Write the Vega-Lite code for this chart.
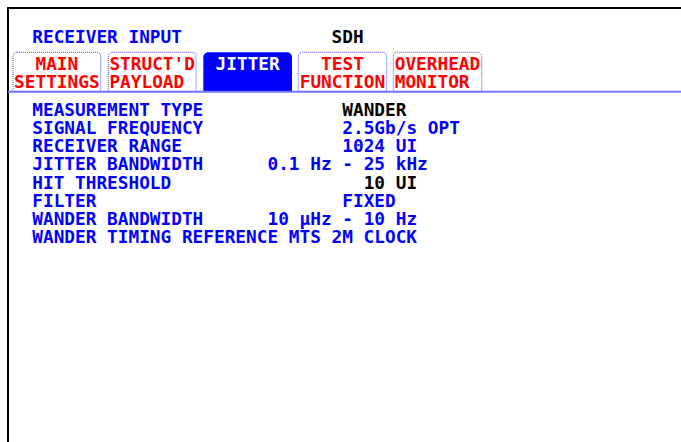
{
  "$schema": "https://vega.github.io/schema/vega-lite/v6.json",
  "width": 674,
  "height": 435,
  "padding": {"left": 8, "top": 8, "right": 0, "bottom": 0},
  "autosize": {"type": "none"},
  "background": "white",
  "config": {"view": {"stroke": "black", "strokeWidth": 2}},
  "datasets": {
    "tabs": [
      {"tab": "MAIN SETTINGS", "left": -1.805, "right": 6.398, "top": -3.181, "bottom": -1.0, "state": "inactive"},
      {"tab": "STRUCT'D PAYLOAD", "left": 7.109, "right": 15.313, "top": -3.181, "bottom": -1.0, "state": "inactive"},
      {"tab": "JITTER", "left": 15.996, "right": 24.294, "top": -3.181, "bottom": -1.0, "state": "active"},
      {"tab": "TEST FUNCTION", "left": 24.883, "right": 33.152, "top": -3.181, "bottom": -1.0, "state": "inactive"},
      {"tab": "OVERHEAD MONITOR", "left": 33.770, "right": 42.039, "top": -3.181, "bottom": -1.0, "state": "inactive"}
    ],
    "tablabels": [
      {"text": "MAIN", "col": 2.297, "row": -2.55, "role": "tab"},
      {"text": "SETTINGS", "col": 2.297, "row": -1.55, "role": "tab"},
      {"text": "STRUCT'D", "col": 11.211, "row": -2.55, "role": "tab"},
      {"text": "PAYLOAD", "col": 10.711, "row": -1.55, "role": "tab"},
      {"text": "JITTER", "col": 20.145, "row": -2.55, "role": "active"},
      {"text": "TEST", "col": 29.018, "row": -2.55, "role": "tab"},
      {"text": "FUNCTION", "col": 29.018, "row": -1.55, "role": "tab"},
      {"text": "OVERHEAD", "col": 37.905, "row": -2.55, "role": "tab"},
      {"text": "MONITOR", "col": 37.405, "row": -1.55, "role": "tab"}
    ],
    "screen": [
      {"text": "RECEIVER INPUT", "col": 0, "row": -4, "role": "selectable"},
      {"text": "SDH", "col": 28, "row": -4, "role": "fixed"},
      {"text": "MEASUREMENT TYPE", "col": 0, "row": 0, "role": "selectable"},
      {"text": "WANDER", "col": 29, "row": 0, "role": "fixed"},
      {"text": "SIGNAL FREQUENCY", "col": 0, "row": 1, "role": "selectable"},
      {"text": "2.5Gb/s OPT", "col": 29, "row": 1, "role": "selectable"},
      {"text": "RECEIVER RANGE", "col": 0, "row": 2, "role": "selectable"},
      {"text": "1024 UI", "col": 29, "row": 2, "role": "selectable"},
      {"text": "JITTER BANDWIDTH", "col": 0, "row": 3, "role": "selectable"},
      {"text": "0.1 Hz - 25 kHz", "col": 22, "row": 3, "role": "selectable"},
      {"text": "HIT THRESHOLD", "col": 0, "row": 4, "role": "selectable"},
      {"text": "10 UI", "col": 31, "row": 4, "role": "fixed"},
      {"text": "FILTER", "col": 0, "row": 5, "role": "selectable"},
      {"text": "FIXED", "col": 29, "row": 5, "role": "selectable"},
      {"text": "WANDER BANDWIDTH", "col": 0, "row": 6, "role": "selectable"},
      {"text": "10 μHz - 10 Hz", "col": 22, "row": 6, "role": "selectable"},
      {"text": "WANDER TIMING REFERENCE MTS 2M CLOCK", "col": 0, "row": 7, "role": "selectable"}
    ]
  },
  "layer": [
    {
      "data": {"name": "tabs"},
      "transform": [{"filter": "datum.state === 'inactive'"}],
      "mark": {"type": "rect", "fill": "white", "stroke": "#4b4bff", "strokeWidth": 1, "strokeDash": [1, 1], "cornerRadiusTopLeft": 4, "cornerRadiusTopRight": 4},
      "encoding": {
        "x": {"field": "left", "type": "quantitative", "scale": {"domain": [-2.273, 60.777], "nice": false, "zero": false}, "axis": null},
        "x2": {"field": "right"},
        "y": {"field": "top", "type": "quantitative", "scale": {"domain": [-5.623, 18.357], "nice": false, "zero": false, "reverse": true}, "axis": null},
        "y2": {"field": "bottom"}
      }
    },
    {
      "data": {"name": "tabs"},
      "transform": [{"filter": "datum.state === 'active'"}],
      "mark": {"type": "rect", "fill": "#0000ff", "cornerRadiusTopLeft": 5, "cornerRadiusTopRight": 5},
      "encoding": {
        "x": {"field": "left", "type": "quantitative", "axis": null},
        "x2": {"field": "right"},
        "y": {"field": "top", "type": "quantitative", "axis": null},
        "y2": {"field": "bottom"}
      }
    },
    {
      "data": {"values": [{"line": "tab baseline", "row": -1.0}]},
      "mark": {"type": "rule", "color": "#7676ff", "strokeWidth": 2},
      "encoding": {
        "y": {"field": "row", "type": "quantitative", "axis": null}
      }
    },
    {
      "data": {"name": "tablabels"},
      "mark": {"type": "text", "align": "center", "baseline": "middle", "font": "DejaVu Sans Mono", "fontWeight": "bold", "fontSize": 17.75, "dy": 1},
      "encoding": {
        "x": {"field": "col", "type": "quantitative", "axis": null},
        "y": {"field": "row", "type": "quantitative", "axis": null},
        "text": {"field": "text"},
        "color": {"field": "role", "type": "nominal", "legend": null, "scale": {"domain": ["selectable", "fixed", "tab", "active"], "range": ["#0000ff", "#000000", "#ff0000", "#ffffff"]}}
      }
    },
    {
      "data": {"name": "screen"},
      "mark": {"type": "text", "align": "left", "baseline": "middle", "font": "DejaVu Sans Mono", "fontWeight": "bold", "fontSize": 17.75, "dy": 1},
      "encoding": {
        "x": {"field": "col", "type": "quantitative", "axis": null},
        "y": {"field": "row", "type": "quantitative", "axis": null},
        "text": {"field": "text"},
        "color": {"field": "role", "type": "nominal", "legend": null}
      }
    }
  ]
}
